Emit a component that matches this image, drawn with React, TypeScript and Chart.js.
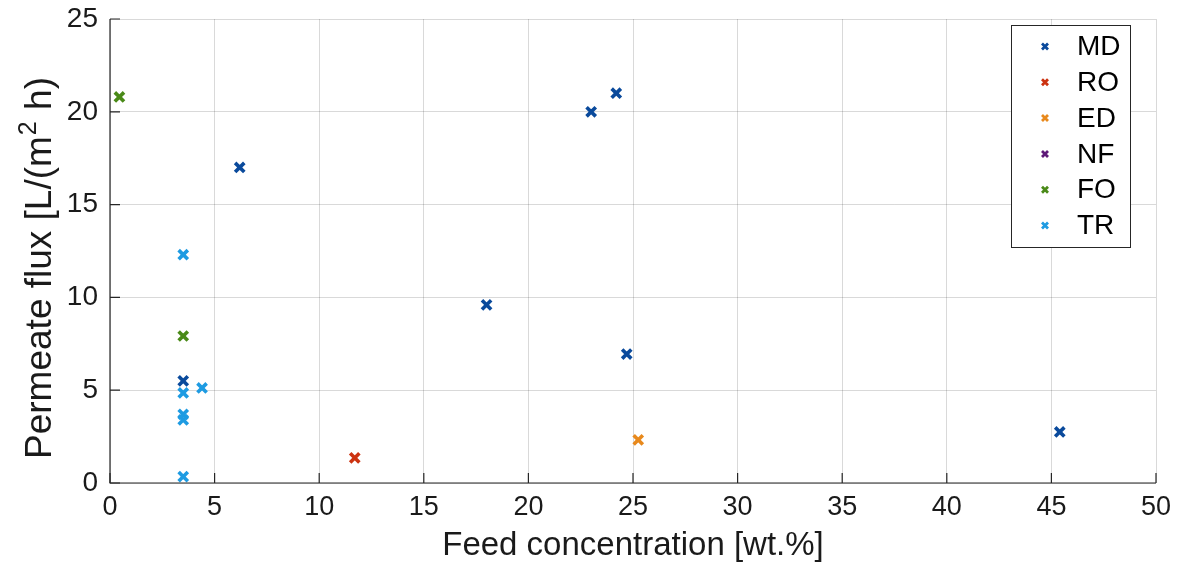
import React, { useEffect, useRef } from "react";
import { Chart, registerables } from "chart.js";

Chart.register(...registerables);

const seriesNames = ["MD", "RO", "ED", "NF", "FO", "TR"];
const seriesColors = ["#0a4a9c", "#cc3311", "#e8891c", "#5e1a78", "#4a8a18", "#1e9be2"];

const mdX = [6.2, 23.0, 24.2, 18.0, 24.7, 45.4, 3.5];
const mdY = [17.0, 20.0, 21.0, 9.6, 6.95, 2.75, 5.5];
const roX = [11.7];
const roY = [1.35];
const edX = [25.25];
const edY = [2.32];
const nfX: number[] = [];
const nfY: number[] = [];
const foX = [0.45, 3.5];
const foY = [20.8, 7.92];
const trX = [3.5, 4.4, 3.5, 3.5, 3.5, 3.5];
const trY = [12.3, 5.12, 4.85, 3.7, 3.4, 0.34];

const xTicks = [0, 5, 10, 15, 20, 25, 30, 35, 40, 45, 50];
const yTicks = [0, 5, 10, 15, 20, 25];

const yTitleParts = ["Permeate flux [L/(m", "2", " h)"];

const FONT = "'Liberation Sans', Arial, Helvetica, sans-serif";

function pts(xs: number[], ys: number[]) {
  return xs.map((x, i) => ({ x, y: ys[i] }));
}

const axesPlugin = {
  id: "matlabAxes",
  afterDatasetsDraw(chart: any) {
    const { ctx, chartArea, scales } = chart;
    const { left, right, top, bottom } = chartArea;
    ctx.save();
    ctx.strokeStyle = "#262626";
    ctx.lineWidth = 1.2;
    ctx.beginPath();
    ctx.moveTo(left, top);
    ctx.lineTo(left, bottom);
    ctx.lineTo(right, bottom);
    ctx.stroke();
    const tl = 10;
    ctx.beginPath();
    xTicks.forEach((v) => {
      const px = scales.x.getPixelForValue(v);
      ctx.moveTo(px, bottom);
      ctx.lineTo(px, bottom - tl);
    });
    yTicks.forEach((v) => {
      const py = scales.y.getPixelForValue(v);
      ctx.moveTo(left, py);
      ctx.lineTo(left + tl, py);
    });
    ctx.stroke();
    ctx.restore();
  },
  afterDraw(chart: any) {
    const { ctx } = chart;
    // y-axis title with superscript
    ctx.save();
    const mainFont = `37px ${FONT}`;
    const supFont = `25px ${FONT}`;
    ctx.font = mainFont;
    const w0 = ctx.measureText(yTitleParts[0]).width;
    const w2 = ctx.measureText(yTitleParts[2]).width;
    ctx.font = supFont;
    const w1 = ctx.measureText(yTitleParts[1]).width + 2;
    const total = w0 + w1 + w2;
    ctx.translate(38, 268);
    ctx.rotate(-Math.PI / 2);
    ctx.fillStyle = "#1a1a1a";
    ctx.textBaseline = "alphabetic";
    ctx.textAlign = "left";
    let x = -total / 2;
    const base = 13;
    ctx.font = mainFont;
    ctx.fillText(yTitleParts[0], x, base);
    x += w0 + 1;
    ctx.font = supFont;
    ctx.fillText(yTitleParts[1], x, base - 15);
    x += w1 - 1;
    ctx.font = mainFont;
    ctx.fillText(yTitleParts[2], x, base);
    ctx.restore();

    // legend
    const bx = 1011, by = 25, bw = 119, bh = 222;
    ctx.save();
    ctx.fillStyle = "#ffffff";
    ctx.fillRect(bx, by, bw, bh);
    ctx.strokeStyle = "#262626";
    ctx.lineWidth = 1;
    ctx.strokeRect(bx + 0.5, by + 0.5, bw, bh);
    ctx.font = `28px ${FONT}`;
    ctx.textBaseline = "middle";
    ctx.textAlign = "left";
    chart.data.datasets.forEach((ds: any, i: number) => {
      const cy = 46.5 + i * 35.8;
      const cx = 1045;
      const r = 3;
      ctx.strokeStyle = ds.borderColor;
      ctx.lineWidth = 2.8;
      ctx.beginPath();
      ctx.moveTo(cx - r, cy - r);
      ctx.lineTo(cx + r, cy + r);
      ctx.moveTo(cx + r, cy - r);
      ctx.lineTo(cx - r, cy + r);
      ctx.stroke();
      ctx.fillStyle = "#000000";
      ctx.fillText(ds.label, 1077, cy + 1);
    });
    ctx.restore();
  },
};

export default function App() {
  const ref = useRef<HTMLCanvasElement | null>(null);

  useEffect(() => {
    document.body.style.margin = "0";
    const canvas = ref.current;
    if (!canvas) return;
    const allX = [mdX, roX, edX, nfX, foX, trX];
    const allY = [mdY, roY, edY, nfY, foY, trY];
    const datasets = seriesNames.map((name, i) => ({
      label: name,
      data: pts(allX[i], allY[i]),
      pointStyle: "crossRot" as const,
      pointRadius: 6.5,
      pointBorderWidth: 3.6,
      borderColor: seriesColors[i],
      backgroundColor: seriesColors[i],
      showLine: false,
    }));
    const chart = new Chart(canvas, {
      type: "scatter",
      data: { datasets },
      options: {
        animation: false,
        responsive: false,
        devicePixelRatio: 1,
        layout: { padding: { left: 0, top: 19, right: 26, bottom: 0 } },
        plugins: {
          legend: { display: false },
          tooltip: { enabled: false },
        },
        scales: {
          x: {
            type: "linear",
            min: 0,
            max: 50,
            afterBuildTicks: (s: any) => {
              s.ticks = xTicks.map((v) => ({ value: v }));
            },
            afterFit: (s: any) => {
              s.height = 89;
              s.paddingLeft = 0;
              s.paddingRight = 0;
            },
            grid: { color: "rgba(0,0,0,0.15)", lineWidth: 1, drawTicks: false, tickLength: 0 },
            border: { display: false },
            ticks: {
              color: "#1a1a1a",
              font: { family: FONT, size: 27 },
              padding: 8,
              maxRotation: 0,
            },
            title: {
              display: true,
              text: "Feed concentration [wt.%]",
              color: "#1a1a1a",
              font: { family: FONT, size: 33 },
              padding: { top: 2, bottom: 6 },
            },
          },
          y: {
            type: "linear",
            min: 0,
            max: 25,
            afterBuildTicks: (s: any) => {
              s.ticks = yTicks.map((v) => ({ value: v }));
            },
            afterFit: (s: any) => {
              s.width = 110;
              s.paddingTop = 0;
              s.paddingBottom = 0;
            },
            grid: { color: "rgba(0,0,0,0.15)", lineWidth: 1, drawTicks: false, tickLength: 0 },
            border: { display: false },
            ticks: {
              color: "#1a1a1a",
              font: { family: FONT, size: 28 },
              padding: 12,
            },
            title: { display: false },
          },
        },
      },
      plugins: [axesPlugin],
    });
    return () => chart.destroy();
  }, []);

  return (
    <div style={{ width: 1182, height: 572, background: "#ffffff" }}>
      <canvas ref={ref} width={1182} height={572} style={{ display: "block" }} />
    </div>
  );
}
